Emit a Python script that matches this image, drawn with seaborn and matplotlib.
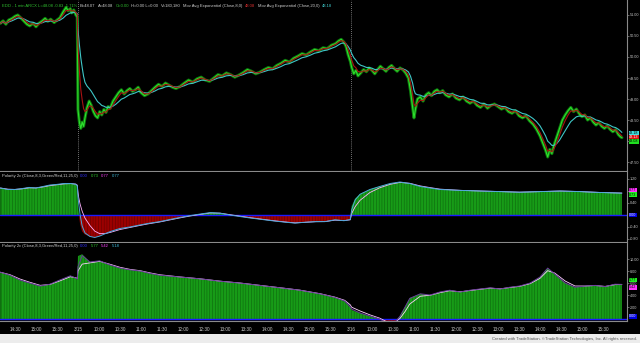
import numpy as np
import pandas as pd
import matplotlib
matplotlib.use("Agg")
import matplotlib.pyplot as plt
import matplotlib.transforms as mtransforms
import seaborn as sns

# ---------------- data (minutes from 3/15 09:30 open; sessions are contiguous) -------------
price_min = [-111, -107, -103, -99, -94, -90, -86, -81, -77, -73, -69, -64, -60, -56, -51, -47,
             -43, -39, -34, -30, -26, -21, -17, -14, -11, -9, -6, -3, -1,
             0, 2, 4, 6, 8, 10, 13, 16, 19, 22, 25, 28, 31, 34, 37, 40, 43, 46, 50, 54, 58, 62,
             66, 70, 74, 78, 82, 86, 90, 95, 100, 105, 110, 115, 120, 125, 130, 135, 140, 146,
             152, 158, 164, 170, 176, 182, 188, 194, 200, 206, 212, 218, 224, 230, 236, 242,
             248, 254, 260, 266, 272, 278, 284, 290, 296, 302, 308, 314, 320, 326, 332, 338,
             344, 350, 356, 362, 368, 372, 376, 380, 383, 386, 389,
             391, 394, 397, 400, 404, 408, 412, 416, 420, 424, 428, 432, 436, 440, 444, 448,
             452, 456, 460, 464, 468, 472, 475, 478, 480, 482, 485, 489, 493, 497, 501, 505,
             509, 513, 517, 521, 525, 530, 535, 540, 545, 550, 555, 560, 565, 570, 575, 580,
             585, 590, 595, 600, 605, 610, 615, 620, 625, 630, 635, 640, 645, 650, 655, 660,
             664, 668, 671, 674, 677, 680, 684, 688, 692, 696, 700, 704, 708, 712, 716, 720,
             724, 728, 732, 736, 740, 744, 748, 752, 756, 760, 764, 768, 772, 775, 777]
price_close = [50.80, 50.86, 50.78, 50.88, 50.92, 50.97, 51.00, 50.92, 50.85, 50.78, 50.74, 50.80,
               50.72, 50.80, 50.86, 50.92, 50.85, 50.90, 50.82, 50.88, 50.93, 51.08, 51.18, 51.10,
               51.15, 51.05, 51.12, 51.00, 50.95,
               48.75, 48.45, 48.30, 48.45, 48.35, 48.55, 48.80, 48.95, 48.85, 48.70, 48.60, 48.55,
               48.70, 48.62, 48.75, 48.68, 48.82, 48.78, 48.95, 49.05, 49.15, 49.22,
               49.12, 49.20, 49.25, 49.18, 49.22, 49.28, 49.15, 49.08, 49.12, 49.20, 49.28, 49.35,
               49.30, 49.38, 49.33, 49.28, 49.25, 49.30,
               49.38, 49.45, 49.40, 49.48, 49.52, 49.45, 49.42, 49.50, 49.58, 49.55, 49.62, 49.58,
               49.52, 49.57, 49.63, 49.70, 49.66, 49.60, 49.64, 49.70, 49.75, 49.72, 49.80, 49.85,
               49.92, 49.88, 49.97, 50.02, 50.08, 50.05, 50.12, 50.18, 50.15, 50.22, 50.20, 50.28,
               50.32, 50.38, 50.42, 50.35, 50.25, 50.05, 49.90,
               49.75, 49.60, 49.68, 49.55, 49.62, 49.70, 49.65, 49.74, 49.68, 49.60, 49.70, 49.78,
               49.72, 49.66, 49.75, 49.80, 49.72, 49.66, 49.74, 49.70, 49.62, 49.50, 49.20, 48.80,
               48.55, 48.75, 49.00, 49.05, 48.95, 49.10, 49.15, 49.08, 49.18, 49.22, 49.15, 49.20,
               49.10, 49.05, 49.12, 49.02, 48.98, 49.05, 48.95, 48.90, 48.95, 48.85, 48.80, 48.88,
               48.78, 48.85, 48.88, 48.82, 48.76, 48.80, 48.70, 48.66, 48.72, 48.60, 48.55, 48.60,
               48.48, 48.40, 48.28, 48.12, 47.95, 47.78, 47.62, 47.80, 47.70, 47.90, 48.10, 48.30,
               48.50, 48.62, 48.72, 48.80, 48.70, 48.76, 48.65, 48.58, 48.62, 48.50, 48.55, 48.45,
               48.38, 48.44, 48.35, 48.30, 48.36, 48.28, 48.22, 48.27, 48.15, 48.10, 48.08]

pol1_min = [-111, -100, -90, -80, -70, -60, -50, -40, -30, -20, -10, -3, -1,
            0, 1, 3, 6, 10, 17, 24, 31, 39, 46, 60, 74, 89, 100, 117, 131, 146, 160, 174, 189,
            203, 217, 231, 246, 263, 280, 296, 310, 325, 340, 353, 367, 380, 389,
            391, 396, 403, 417, 431, 446, 460, 474, 489, 503, 517, 546, 574, 603, 631, 660,
            689, 717, 746, 777]
pol1_val = [0.90, 0.85, 0.85, 0.88, 0.92, 0.90, 0.95, 1.00, 1.02, 1.05, 1.05, 1.02, 0.95,
            0.30, 0.10, -0.30, -0.55, -0.65, -0.72, -0.75, -0.70, -0.62, -0.55, -0.45, -0.40,
            -0.33, -0.28, -0.22, -0.15, -0.08, -0.02, 0.03, 0.08,
            0.06, 0.00, -0.05, -0.10, -0.15, -0.20, -0.24, -0.27, -0.24, -0.22, -0.22, -0.16,
            -0.19, -0.15,
            0.30, 0.55, 0.70, 0.85, 0.95, 1.05, 1.10, 1.05, 0.95, 0.90, 0.85, 0.82, 0.80, 0.78,
            0.76, 0.78, 0.80, 0.78, 0.75, 0.73]

pol2_min = [-111, -97, -83, -69, -54, -40, -26, -11, -3, -1,
            0, 6, 17, 31, 46, 60, 74, 89, 103, 117, 146, 174, 203, 231, 260, 289, 317, 346,
            367, 381, 389,
            391, 403, 417, 431, 443, 453, 460, 467, 474, 489, 503, 517, 531, 546, 560, 574,
            589, 603, 617, 631, 646, 660, 671, 681, 696, 710, 724, 739, 753, 767, 777]
pol2_val = [7.8, 7.3, 6.5, 6.0, 5.5, 5.8, 6.5, 7.2, 6.8, 6.6,
            10.5, 10.8, 9.5, 9.7, 9.0, 8.5, 8.2, 8.0, 7.6, 7.3, 7.0, 6.7, 6.3, 6.0, 5.6, 5.2,
            4.8, 4.2, 3.6, 3.0, 2.0,
            1.5, 1.0, 0.5, 0.0, -0.8, -0.5, 0.5, 2.0, 3.5, 4.2, 4.0, 4.5, 4.8, 4.5, 4.8, 5.0,
            5.2, 5.0, 5.3, 5.5, 6.0, 7.0, 8.5, 7.5, 6.0, 5.3, 5.5, 5.6, 5.4, 5.8, 5.77]

day_breaks = [0, 390]
time_ticks = [-90, -60, -30] + list(range(0, 751, 30))
time_labels = ["14:30", "15:00", "15:30", "3/15", "10:00", "10:30", "11:00", "11:30", "12:00",
               "12:30", "13:00", "13:30", "14:00", "14:30", "15:00", "15:30", "3/16", "10:00",
               "10:30", "11:00", "11:30", "12:00", "12:30", "13:00", "13:30", "14:00", "14:30",
               "15:00", "15:30"]
price_ticks = [51.00, 50.50, 50.00, 49.50, 49.00, 48.50, 48.00, 47.50]
pol1_ticks = [1.20, 0.80, 0.40, -0.40, -0.80]
pol2_ticks = [10.00, 8.00, 6.00, 4.00, 2.00]

# ---------------- derived series ----------------
times = pd.Timestamp("2011-03-15 09:30") + pd.to_timedelta(price_min, unit="min")
close = pd.Series(price_close, index=times)
ema8 = close.ewm(halflife=pd.Timedelta(minutes=3.5), times=times).mean()
ema20 = close.ewm(halflife=pd.Timedelta(minutes=10.0), times=times).mean()

def smooth(mins, vals, hl):
    t = pd.Timestamp("2011-03-15 09:30") + pd.to_timedelta(mins, unit="min")
    return pd.Series(vals, index=t).ewm(halflife=pd.Timedelta(minutes=hl), times=t).mean().values

p1_fast = smooth(pol1_min, pol1_val, 1.5)
p1_slow = smooth(pol1_min, pol1_val, 6.0)
p2_fast = smooth(pol2_min, pol2_val, 1.5)
p2_slow = smooth(pol2_min, pol2_val, 6.0)

# ---------------- styling ----------------
sns.set_theme(style="dark")
plt.rcParams.update({
    "font.family": ["Liberation Sans", "DejaVu Sans"],
    "axes.facecolor": "black",
    "figure.facecolor": "black",
    "hatch.linewidth": 0.35,
})

W, H = 640, 343
fig = plt.figure(figsize=(6.4, 3.43), dpi=100, facecolor="black")

def rect(x0, y0, x1, y1):
    return [x0 / W, 1 - y1 / H, (x1 - x0) / W, (y1 - y0) / H]

ax1 = fig.add_axes(rect(0, 0, 627, 171))
ax2 = fig.add_axes(rect(0, 172, 627, 242), sharex=ax1)
ax3 = fig.add_axes(rect(0, 243, 627, 321), sharex=ax1)

GRAY = "#8a8a8a"
LBL = "#c8c8c8"
for ax in (ax1, ax2, ax3):
    ax.set_facecolor("black")
    ax.grid(False)
    for s in ("top", "left"):
        ax.spines[s].set_visible(False)
    ax.spines["right"].set_color(GRAY)
    ax.spines["right"].set_linewidth(0.8)
    ax.spines["bottom"].set_color(GRAY)
    ax.spines["bottom"].set_linewidth(0.8)
    ax.yaxis.tick_right()
    ax.tick_params(axis="y", colors=GRAY, labelcolor=LBL, labelsize=2.7, length=1.5,
                   width=0.5, pad=0.6, direction="out")
    ax.set_ylabel("")
    ax.set_xlabel("")

ax1.set_xlim(-111.4, 784.3)

# ---- price panel ----
sns.lineplot(x=price_min, y=price_close, ax=ax1, color="#0d7a0d", lw=2.2, estimator=None,
             sort=False)
sns.lineplot(x=price_min, y=price_close, ax=ax1, color="#2ee02e", lw=0.8, estimator=None,
             sort=False)
sns.lineplot(x=price_min, y=ema20.values, ax=ax1, color="#3ec6c6", lw=0.8, estimator=None,
             sort=False)
sns.lineplot(x=price_min, y=ema8.values, ax=ax1, color="#a81212", lw=0.8, estimator=None,
             sort=False)
ax1.set_ylim(47.286, 51.357)
ax1.set_yticks(price_ticks)
ax1.set_yticklabels([f"{v:.2f}" for v in price_ticks])
for d in day_breaks:
    ax1.axvline(d, color="#9a9a9a", lw=0.6, ls=(0, (1, 1.5)), zorder=0)

# ---- polarity panel 1 ----
x1 = np.array(pol1_min, float)
y1 = np.array(pol1_val, float)
ax2.fill_between(x1, 0, y1, where=y1 >= 0, interpolate=True, facecolor="#179b17",
                 edgecolor="#0c5e0c", hatch="||||||", linewidth=0)
ax2.fill_between(x1, 0, y1, where=y1 <= 0, interpolate=True, facecolor="#9b0000",
                 edgecolor="#5c0000", hatch="||||||", linewidth=0)
ax2.axhline(0, color="#1a1aff", lw=1.0)
sns.lineplot(x=pol1_min, y=p1_slow, ax=ax2, color="#ffb0ff", lw=0.6, estimator=None, sort=False)
sns.lineplot(x=pol1_min, y=p1_fast, ax=ax2, color="#4aa8d8", lw=0.7, estimator=None, sort=False)
ax2.set_ylim(-0.9, 1.433)
ax2.set_yticks(pol1_ticks)
ax2.set_yticklabels([f"{v:.2f}" for v in pol1_ticks])

# ---- polarity panel 2 ----
x2 = np.array(pol2_min, float)
y2 = np.array(pol2_val, float)
ax3.fill_between(x2, 0, y2, where=y2 >= 0, interpolate=True, facecolor="#179b17",
                 edgecolor="#0c5e0c", hatch="||||||", linewidth=0)
ax3.fill_between(x2, 0, y2, where=y2 <= 0, interpolate=True, facecolor="#9b0000",
                 edgecolor="#5c0000", hatch="||||||", linewidth=0)
ax3.axhline(0, color="#1a1aff", lw=1.0)
sns.lineplot(x=pol2_min, y=p2_slow, ax=ax3, color="#ffd0ff", lw=0.6, estimator=None, sort=False)
sns.lineplot(x=pol2_min, y=p2_fast, ax=ax3, color="#6a3a9a", lw=0.7, estimator=None, sort=False)
ax3.set_ylim(-0.33, 12.67)
ax3.set_yticks(pol2_ticks)
ax3.set_yticklabels([f"{v:.2f}" for v in pol2_ticks])

for ax in (ax1, ax2):
    ax.tick_params(axis="x", bottom=False, labelbottom=False)
ax3.set_xticks(time_ticks)
ax3.set_xticklabels(time_labels)
ax3.tick_params(axis="x", colors=GRAY, labelcolor=LBL, labelsize=3.3, length=2.5, width=0.5,
                pad=1.5, direction="out")

# ---- right-axis value boxes ----
def valbox(ax, y, txt, bg, fg="black"):
    tr = mtransforms.blended_transform_factory(ax.transAxes, ax.transData)
    ax.text(1.0035, y, txt, transform=tr, ha="left", va="center", fontsize=2.7, color=fg,
            clip_on=False, bbox=dict(boxstyle="square,pad=0.12", fc=bg, ec="none"), zorder=10)

valbox(ax1, 48.19, "48.18", "#40e0e0")
valbox(ax1, 48.09, "48.13", "#e01010", "white")
valbox(ax1, 47.99, "48.08", "#20e020")
valbox(ax2, 0.82, "0.77", "#ff30ff")
valbox(ax2, 0.68, "0.73", "#20f020")
valbox(ax2, 0.0, "0.00", "#0000e0", "white")
valbox(ax3, 6.5, "5.77", "#20f020")
valbox(ax3, 5.3, "5.42", "#ff30ff")
valbox(ax3, 0.45, "0.00", "#0000e0", "white")

# ---- legend texts (placed one after another) ----
renderer = fig.canvas.get_renderer()

def legend_row(x0, y, parts, fs=3.0, gap=2.5):
    x = x0
    for s, c in parts:
        t = fig.text(x / W, 1 - y / H, s, color=c, fontsize=fs, ha="left", va="center")
        bb = t.get_window_extent(renderer=renderer)
        x += bb.width + gap

legend_row(2, 6, [("EDD - 1 min ARCX L=48.08 -0.83 -1.71%", "#30c030"),
                  ("B=48.07", "#d0d0d0"), ("A=48.08", "#d0d0d0"), ("O=0.00", "#30c030"),
                  ("H=0.00 L=0.00", "#d0d0d0"), ("V=180,180", "#d0d0d0"),
                  ("Mov Avg Exponential (Close,8,0)", "#d0d0d0"), ("48.08", "#e03030"),
                  ("Mov Avg Exponential (Close,20,0)", "#d0d0d0"), ("48.18", "#40d0d0")])
legend_row(2, 176, [("Polarity 2c (Close,8,3,Green/Red,11,25,0)", "#d0d0d0"),
                    ("0.00", "#3030ff"), ("0.73", "#30d030"), ("0.77", "#ff40ff"),
                    ("0.77", "#40c0e0")])
legend_row(2, 246, [("Polarity 2c (Close,8,3,Green/Red,11,25,0)", "#d0d0d0"),
                    ("0.00", "#3030ff"), ("5.77", "#30d030"), ("5.42", "#ff40ff"),
                    ("5.18", "#40c0e0")])

# ---- bottom strip ----
axs = fig.add_axes(rect(0, 334, 640, 343))
axs.set_facecolor("#ececec")
axs.set_xticks([])
axs.set_yticks([])
for s in axs.spines.values():
    s.set_visible(False)
axs.text(0.995, 0.45, "Created with TradeStation. \u00a9TradeStation Technologies, Inc. All rights reserved.",
         transform=axs.transAxes, ha="right", va="center", fontsize=3.0, color="#505050")

fig.savefig("out.png", dpi=100, facecolor="black")
